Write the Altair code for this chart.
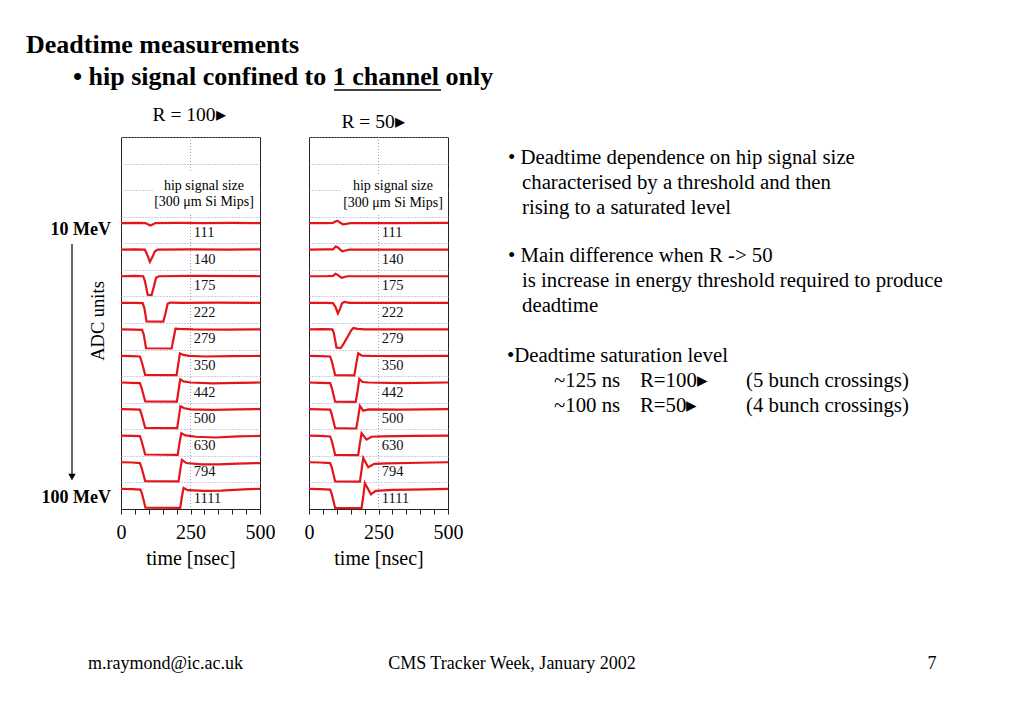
import altair as alt
import pandas as pd

FONT = "Liberation Serif"
RED = "#e3151a"
GRID = "#9a9acf"

SIGNALS = [111, 140, 175, 222, 279, 350, 442, 500, 630, 794, 1111]

# R = 100 : (time ns, ADC deviation from baseline)
R100_S111 = [(0, 0), (60, 1), (88, 0), (98, -5), (106, -9), (114, -5), (124, 0), (200, 1), (300, 0), (400, 1), (500, 0)]
R100_S140 = [(0, 0), (50, 1), (86, 0), (94, -18), (104, -46), (112, -30), (122, -6), (132, 0), (250, 1), (380, 0), (500, 1)]
R100_S175 = [(0, 0), (50, 1), (80, 0), (86, -18), (96, -70), (110, -71), (118, -40), (126, -6), (136, 0), (250, 1), (500, 0)]
R100_S222 = [(0, 0), (50, 0), (78, -1), (84, -20), (92, -70), (152, -71), (160, -40), (168, -3), (178, 1), (220, 0), (350, 1), (500, 0)]
R100_S279 = [(0, 0), (50, -1), (76, -2), (82, -20), (90, -71), (182, -72), (189, -35), (196, 3), (210, 2), (260, 0), (380, -1), (500, 0)]
R100_S350 = [(0, 0), (40, -1), (68, -2), (74, -20), (87, -71), (200, -72), (206, -30), (212, 10), (224, 4), (245, 0), (300, -2), (400, -1), (500, 0)]
R100_S442 = [(0, 0), (40, -1), (68, -2), (74, -20), (87, -71), (201, -72), (207, -30), (213, 12), (225, 4), (250, 0), (330, -3), (420, -1), (500, 0)]
R100_S500 = [(0, 0), (40, -1), (68, -2), (74, -20), (87, -71), (202, -72), (208, -30), (214, 11), (228, 3), (250, -1), (330, -3), (420, -1), (500, 0)]
R100_S630 = [(0, 0), (40, -1), (68, -2), (74, -20), (87, -71), (204, -72), (210, -30), (217, 9), (232, 1), (270, -4), (340, -7), (420, -3), (500, -1)]
R100_S794 = [(0, 0), (40, -1), (68, -3), (74, -20), (87, -71), (207, -72), (213, -30), (219, 9), (235, -3), (290, -8), (350, -8), (420, -5), (500, -3)]
R100_S1111 = [(0, 0), (40, -1), (70, -3), (76, -20), (88, -71), (213, -72), (219, -30), (225, 3), (240, -5), (300, -8), (360, -7), (440, -2), (500, 0)]

# R = 50
R50_S111 = [(0, 0), (60, 0), (86, 1), (95, 6), (102, 9), (110, 3), (122, -5), (134, -3), (148, 0), (300, 0), (500, 1)]
R50_S140 = [(0, 0), (60, 1), (86, 1), (96, 12), (104, 8), (112, 0), (120, -6), (132, -3), (145, 0), (300, 0), (500, 0)]
R50_S175 = [(0, 0), (60, 0), (86, 1), (95, 9), (104, 5), (112, -2), (118, -6), (130, -2), (140, 0), (500, 0)]
R50_S222 = [(0, 0), (60, 0), (86, -1), (95, -15), (104, -40), (112, -22), (119, -2), (127, 3), (145, 0), (500, 0)]
R50_S279 = [(0, 0), (50, 1), (84, 0), (89, -12), (99, -69), (115, -70), (128, -48), (142, -22), (152, -3), (160, 5), (175, 2), (200, 0), (500, 0)]
R50_S350 = [(0, 0), (40, -1), (76, -2), (82, -20), (94, -72), (163, -73), (170, -30), (177, 10), (190, 1), (220, 0), (330, -1), (500, 0)]
R50_S442 = [(0, 0), (40, -1), (76, -2), (82, -20), (94, -72), (168, -73), (175, -30), (181, 14), (192, 2), (215, 0), (330, -2), (500, 0)]
R50_S500 = [(0, 0), (40, -1), (76, -2), (82, -20), (94, -72), (170, -73), (177, -30), (183, 12), (195, -6), (215, -1), (330, -2), (500, 0)]
R50_S630 = [(0, 0), (40, -1), (76, -3), (82, -20), (94, -72), (177, -73), (183, -30), (189, 9), (207, -15), (225, -4), (260, -3), (380, -1), (500, 0)]
R50_S794 = [(0, 0), (40, -1), (76, -3), (82, -20), (94, -72), (183, -73), (189, -30), (195, 16), (213, -19), (235, -6), (280, -4), (400, -2), (500, 0)]
R50_S1111 = [(0, 0), (40, -1), (76, -3), (82, -20), (94, -72), (189, -73), (195, -30), (201, 21), (223, -21), (240, -8), (300, -4), (420, -2), (500, 0)]

R100 = [R100_S111, R100_S140, R100_S175, R100_S222, R100_S279, R100_S350,
        R100_S442, R100_S500, R100_S630, R100_S794, R100_S1111]
R50 = [R50_S111, R50_S140, R50_S175, R50_S222, R50_S279, R50_S350,
       R50_S442, R50_S500, R50_S630, R50_S794, R50_S1111]

TOP_SLOT = 10.76     # baseline of first trace (grid units)
LABEL_DROP = 0.38
LABEL_T = 262


def traces_df(traces):
    rows = []
    for i, (sig, tr) in enumerate(zip(SIGNALS, traces)):
        for k, (t, d) in enumerate(tr):
            rows.append({"signal": sig, "order": k, "t": t, "y": TOP_SLOT - i + d / 100.0})
    return pd.DataFrame(rows)


def labels_df():
    return pd.DataFrame({"t": [LABEL_T] * len(SIGNALS),
                         "y": [TOP_SLOT - LABEL_DROP - i for i in range(len(SIGNALS))],
                         "lab": [str(s) for s in SIGNALS]})


ONE = pd.DataFrame({"a": [0]})
OX, OY = 120, 136   # slide position of panel 1 origin


def T(s, x, y, size=20.8, weight="normal", align="left", baseline="alphabetic", angle=0, ox=OX, oy=OY):
    return alt.Chart(ONE).mark_text(text=s, font=FONT, fontSize=size, fontWeight=weight,
                                    align=align, baseline=baseline, angle=angle,
                                    color="black").encode(x=alt.value(x - ox), y=alt.value(y - oy))


W, H = 139, 372
xs = alt.Scale(domain=[0, 500], nice=False, zero=False)
ys = alt.Scale(domain=[0, 14], nice=False, zero=False)
XAXIS = alt.Axis(values=list(range(0, 501, 50)),
                 labelExpr="(datum.value % 250 == 0) ? datum.label : ''",
                 title="time [nsec]", grid=False, tickSize=5, labelPadding=8,
                 titlePadding=6, labelFlush=False, labelOverlap=False, labelBound=False)
YAXIS = alt.Axis(values=list(range(15)), labels=False, ticks=False, domain=False,
                 grid=True, gridDash=[1, 2], gridColor=GRID, title=None)


def panel(traces, extras):
    vrule = alt.Chart(pd.DataFrame({"t": [250], "y": [7]})).mark_rule(
        strokeDash=[1, 2], color=GRID).encode(x=alt.X("t:Q", scale=xs, axis=XAXIS))
    lines = alt.Chart(traces_df(traces)).mark_line(color=RED, strokeWidth=2.2).encode(
        x=alt.X("t:Q", scale=xs, axis=XAXIS),
        y=alt.Y("y:Q", scale=ys, axis=YAXIS),
        detail="signal:N", order="order:Q")
    labs = alt.Chart(labels_df()).mark_text(
        align="left", baseline="middle", font=FONT, fontSize=14.5, color="#111").encode(
        x=alt.X("t:Q", scale=xs, axis=XAXIS), y=alt.Y("y:Q", scale=ys, axis=YAXIS), text="lab:N")
    return alt.layer(vrule, *extras[:1], lines, labs, *extras[1:]).properties(width=W, height=H)


hide1 = alt.Chart(ONE).mark_rect(color="white").encode(
    x=alt.value(152 - OX), x2=alt.value(W), y=alt.value(170 - OY), y2=alt.value(212 - OY))
anchor = alt.Chart(ONE).mark_point(opacity=0, size=1, shape="square").encode(
    x=alt.value(8 - OX), y=alt.value(8 - OY))

slide = [
    T("Deadtime measurements", 25, 52, size=26, weight="bold"),
    T("• hip signal confined to 1 channel only", 72, 84, size=26, weight="bold"),
    alt.Chart(ONE).mark_rule(color="black", strokeWidth=1.5).encode(
        x=alt.value(333 - OX), x2=alt.value(440 - OX), y=alt.value(89 - OY)),
    T("R = 100▸", 188, 120, size=19.5, align="center"),
    T("R = 50▸", 372, 127, size=19.5, align="center"),
    T("hip signal size", 203, 189, size=14, align="center"),
    T("[300 μm Si Mips]", 203, 205, size=14, align="center"),
    T("10 MeV", 110, 234, size=18, weight="bold", align="right"),
    T("100 MeV", 110, 502, size=18, weight="bold", align="right"),
    T("ADC units", 97, 320, size=18.5, align="center", baseline="middle", angle=270),
    alt.Chart(ONE).mark_rule(color="black", strokeWidth=1.2).encode(
        x=alt.value(71 - OX), y=alt.value(243 - OY), y2=alt.value(474 - OY)),
    alt.Chart(ONE).mark_point(shape="triangle-down", filled=True, size=55, color="black", opacity=1).encode(
        x=alt.value(71 - OX), y=alt.value(476 - OY)),
    T("• Deadtime dependence on hip signal size", 507, 163),
    T("characterised by a threshold and then", 521, 188),
    T("rising to a saturated level", 521, 213),
    T("• Main difference when R -> 50", 507, 261),
    T("is increase in energy threshold required to produce", 521, 286),
    T("deadtime", 521, 311),
    T("•Deadtime saturation level", 506, 361),
    T("~125 ns", 553, 386),
    T("R=100▸", 639, 386),
    T("(5 bunch crossings)", 745, 386),
    T("~100 ns", 553, 411),
    T("R=50▸", 639, 411),
    T("(4 bunch crossings)", 745, 411),
    T("m.raymond@ic.ac.uk", 87, 668, size=18),
    T("CMS Tracker Week, January 2002", 511, 668, size=18, align="center"),
    T("7", 931, 668, size=18, align="center"),
    anchor,
]

p1 = panel(R100, [hide1] + slide)

OX2 = 308
hide2 = alt.Chart(ONE).mark_rect(color="white").encode(
    x=alt.value(340 - OX2), x2=alt.value(W), y=alt.value(175 - OY), y2=alt.value(212 - OY))
p2 = panel(R50, [hide2,
                 T("hip signal size", 392, 189, size=14, align="center", ox=OX2),
                 T("[300 μm Si Mips]", 392, 206, size=14, align="center", ox=OX2)])

chart = alt.hconcat(p1, p2, spacing=OX2 - OX - W, bounds="flush").properties(
    padding=0
).configure_view(stroke="#222", strokeWidth=1).configure_axis(
    labelFont=FONT, titleFont=FONT, labelFontSize=20, titleFontSize=20,
    labelColor="black", titleColor="black", titleFontWeight="normal",
    domainColor="#222", tickColor="#222")

chart.save("out.html", embed_options={"renderer": "svg", "actions": False})
